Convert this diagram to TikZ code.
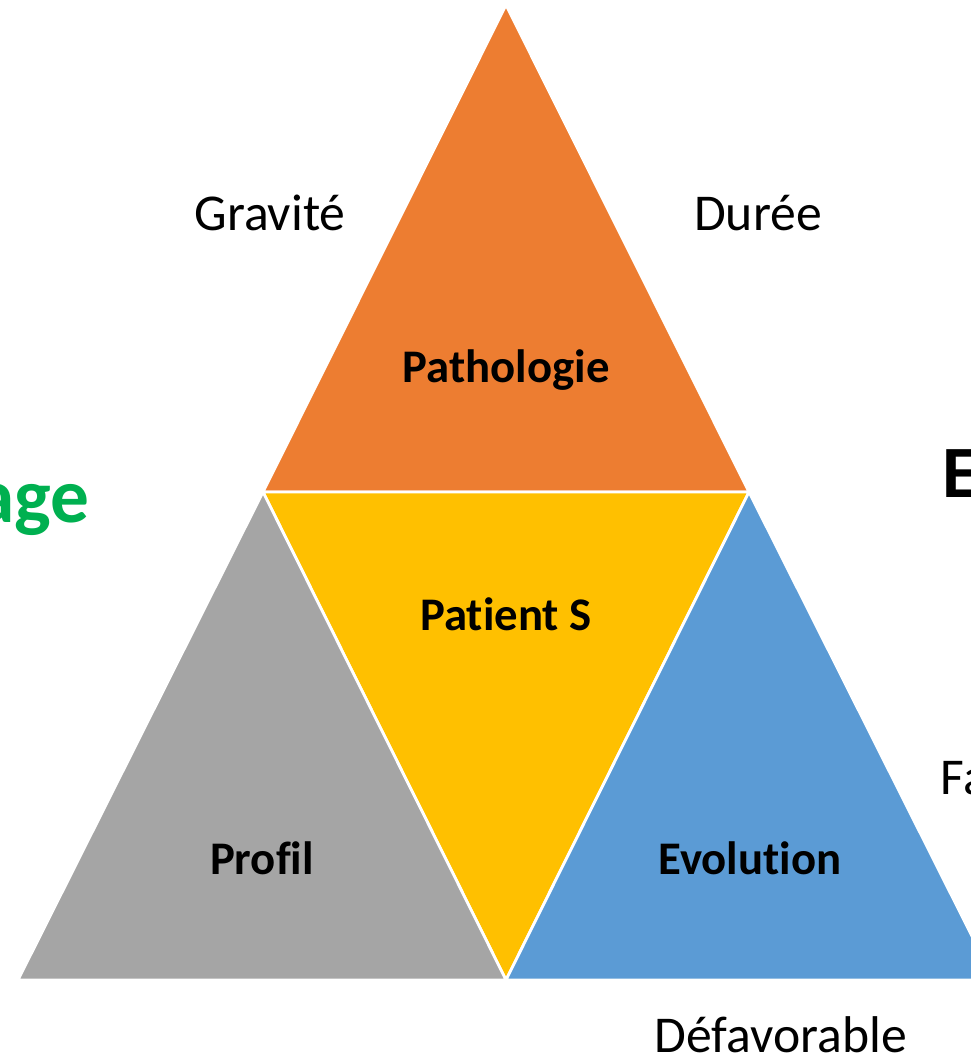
\documentclass[tikz,border=0pt]{standalone}
\usepackage{fontspec}
\setmainfont[Ligatures={NoCommon}]{Carlito}
\usepackage{tikz}
\usetikzlibrary{calc,positioning}
\definecolor{pathoorange}{HTML}{ED7D31}
\definecolor{patientyellow}{HTML}{FFC000}
\definecolor{profilgray}{HTML}{A5A5A5}
\definecolor{evolblue}{HTML}{5B9BD5}
\definecolor{agegreen}{HTML}{00B050}

\begin{document}
\begin{tikzpicture}
	\useasboundingbox (0,0) rectangle (9.71,10.61);
	\tikzset{
		tri/.style={draw=white, line width=0.8pt, line join=miter},
		lbl/.style={font=\fontsize{14.7}{17}\selectfont, inner sep=0pt},
		blbl/.style={font=\fontsize{13.3}{16}\selectfont\bfseries, inner sep=0pt}
	}
	\coordinate (top) at (5.06,10.56);
	\coordinate (ml) at (2.63,5.69);
	\coordinate (mr) at (7.49,5.69);
	\coordinate (bl) at (0.18,0.81);
	\coordinate (bm) at (5.06,0.81);
	\coordinate (br) at (9.94,0.81);
	
	% upper triangle
	\fill[tri, fill=pathoorange] (top) -- (ml) -- (mr) -- cycle;
	% middle (inverted) triangle
	\fill[tri, fill=patientyellow] (ml) -- (mr) -- (bm) -- cycle;
	% lower left triangle
	\fill[tri, fill=profilgray] (ml) -- (bl) -- (bm) -- cycle;
	% lower right triangle
	\fill[tri, fill=evolblue] (mr) -- (bm) -- (br) -- cycle;
	
	% labels inside
	\node[blbl] (patho) at (5.06,6.91) {Pathologie};
	\node[blbl] (patient) at (5.06,4.47) {Patient S};
	\node[blbl] (profil) at (2.62,2.03) {Profil};
	\node[blbl] (evol) at (7.50,2.03) {Evolution};
	
	% labels outside
	\node[lbl] (gravite) at (2.70,8.48) {Gravité};
	\node[lbl] (duree) at (7.58,8.48) {Durée};
	\node[lbl, anchor=base] (defav) at (7.81,0.09) {Défavorable};
	\node[lbl, anchor=west] (fav) at (9.40,2.83) {Fa};
	\node[font=\fontsize{22}{26}\selectfont\bfseries, text=agegreen, inner sep=0pt, anchor=base east] (age) at (0.90,5.39) {age};
	\node[font=\fontsize{21}{25}\selectfont\bfseries, inner sep=0pt, anchor=base west] (evalE) at (9.42,5.63) {E};
\end{tikzpicture}
\end{document}
